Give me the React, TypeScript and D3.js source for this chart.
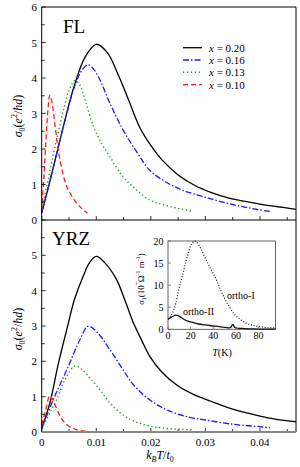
import React from "react";
import * as d3 from "d3";

// k_B T / t_0 vs sigma_0 — FL panel
const flX020 = [[0,0.2],[0.002,1.4],[0.004,2.65],[0.006,3.8],[0.008,4.6],[0.010,4.95],[0.012,4.72],[0.014,4.1],[0.016,3.35],[0.018,2.6],[0.020,2.1],[0.022,1.7],[0.025,1.27],[0.028,0.98],[0.031,0.78],[0.034,0.63],[0.037,0.53],[0.040,0.45],[0.043,0.38],[0.0466,0.3]];
const flX016 = [[0,0.2],[0.002,1.4],[0.004,2.65],[0.006,3.75],[0.0075,4.25],[0.0085,4.37],[0.0095,4.25],[0.0107,3.94],[0.0125,3.29],[0.0149,2.54],[0.0175,1.9],[0.0198,1.4],[0.023,1.05],[0.026,0.83],[0.030,0.64],[0.034,0.47],[0.038,0.34],[0.0418,0.24]];
const flX013 = [[0,0.3],[0.001,1.0],[0.002,1.75],[0.003,2.45],[0.004,3.1],[0.005,3.65],[0.0061,3.93],[0.007,3.8],[0.008,3.35],[0.0095,2.63],[0.011,2.15],[0.0125,1.78],[0.0149,1.22],[0.017,0.9],[0.0198,0.56],[0.023,0.4],[0.0278,0.24]];
const flX010 = [[0,0.25],[0.0004,1.2],[0.0008,2.3],[0.0012,3.2],[0.0015,3.52],[0.0019,3.3],[0.0025,2.6],[0.00305,1.97],[0.0038,1.35],[0.0046,0.94],[0.0055,0.68],[0.0064,0.48],[0.0075,0.3],[0.0084,0.19]];

// YRZ panel
const yrzX020 = [[0,0.1],[0.0015,0.82],[0.003,1.9],[0.0046,2.9],[0.006,3.75],[0.0076,4.41],[0.0088,4.8],[0.010,4.97],[0.0115,4.8],[0.0137,4.32],[0.0152,3.75],[0.0168,3.09],[0.0183,2.6],[0.0198,2.14],[0.022,1.7],[0.025,1.3],[0.028,1.05],[0.031,0.87],[0.034,0.7],[0.037,0.56],[0.040,0.45],[0.043,0.36],[0.0466,0.29]];
const yrzX016 = [[0,0.1],[0.0021,0.91],[0.0046,1.76],[0.007,2.61],[0.0085,2.99],[0.010,2.85],[0.0125,2.33],[0.0149,1.76],[0.017,1.3],[0.0198,0.91],[0.023,0.62],[0.027,0.42],[0.030,0.34],[0.035,0.22],[0.040,0.15],[0.0418,0.12]];
const yrzX013 = [[0,0.1],[0.0027,0.91],[0.0045,1.55],[0.0061,1.87],[0.0075,1.75],[0.009,1.5],[0.0107,1.19],[0.0125,0.82],[0.0149,0.48],[0.017,0.3],[0.0198,0.17],[0.023,0.1],[0.0278,0.06]];
const yrzX010 = [[0,0.2],[0.0007,0.6],[0.0015,1.03],[0.0022,0.85],[0.0034,0.44],[0.0045,0.22],[0.0058,0.1],[0.007,0.04],[0.0084,0.01]];

// inset: sigma_1 vs T(K)
const orthoI = [[0,2.3],[2,2.8],[4.5,4],[7,6],[9,8.5],[11.5,11],[13.6,13],[16,15.5],[18,17.3],[20.5,19.2],[23.5,20],[26,19.6],[29,18.3],[33,16.1],[37.5,13.8],[42,11.6],[46,9.2],[50,7],[54.5,5],[59,3.3],[64,2.2],[69,1.4],[75,0.9],[81,0.6],[88,0.4],[95,0.3]];
const orthoII = [[0,2.3],[2,2.6],[4,2.9],[7,3.2],[9,3.1],[12,2.6],[16,2],[21,1.6],[27,1.2],[33,1],[40,0.75],[48,0.5],[55,0.4],[57.5,1.1],[59,0.4],[65,0.2],[75,0.1],[85,0.05],[95,0.05]];

const legendLabels = ["0.20", "0.16", "0.13", "0.10"];
const xTickLabels = [0, 0.01, 0.02, 0.03, 0.04];
const insetXTicks = [0, 20, 40, 60, 80];
const insetYTicks = [0, 5, 10, 15, 20];

const styles = [
  { color: "#000", dash: null, w: 1.3 },
  { color: "#1a1aff", dash: "6,2,1.5,2", w: 1.3 },
  { color: "#1a9e1a", dash: "1.3,2.6", w: 1.4 },
  { color: "#ff1a1a", dash: "5,3", w: 1.3 },
];

const FONT = "'Liberation Serif', 'Times New Roman', serif";

export default function App() {
  const x = d3.scaleLinear().domain([0, 0.0466]).range([41.7, 296]);
  const yTop = d3.scaleLinear().domain([0, 6]).range([220, 7]);
  const yBot = d3.scaleLinear().domain([0, 6]).range([432, 220]);
  const ix = d3.scaleLinear().domain([0, 95]).range([168, 275.5]);
  const iy = d3.scaleLinear().domain([0, 20]).range([329.3, 241]);

  const mk = (ys: any) =>
    d3.line<number[]>().x((d) => x(d[0])).y((d) => ys(d[1])).curve(d3.curveCatmullRom.alpha(0.5));
  const lineTop = mk(yTop);
  const lineBot = mk(yBot);
  const lineIn = d3.line<number[]>().x((d) => ix(d[0])).y((d) => iy(d[1])).curve(d3.curveCatmullRom.alpha(0.5));

  const topSeries = [flX020, flX016, flX013, flX010];
  const botSeries = [yrzX020, yrzX016, yrzX013, yrzX010];

  const xMinor = d3.range(0, 0.0466, 0.005);
  const yMinor = d3.range(0, 6.01, 0.5);

  const axisLabelY = (cx: number, cy: number) => (
    <text
      transform={`translate(${cx},${cy}) rotate(-90)`}
      textAnchor="middle"
      fontFamily={FONT}
      fontSize={12}
    >
      <tspan fontStyle="italic">σ</tspan>
      <tspan fontSize={8} dy={3}>0</tspan>
      <tspan dy={-3}>(</tspan>
      <tspan fontStyle="italic">e</tspan>
      <tspan fontSize={8} dy={-5}>2</tspan>
      <tspan dy={5}>/</tspan>
      <tspan fontStyle="italic">ħd</tspan>
      <tspan>)</tspan>
    </text>
  );

  const panel = (ys: any, top: number, bottom: number, series: number[][][], line: any, showTop: boolean, grayBottom: boolean) => (
    <g>
      {series.map((s, i) => (
        <path
          key={i}
          d={line(s) as string}
          fill="none"
          stroke={styles[i].color}
          strokeWidth={styles[i].w}
          strokeDasharray={styles[i].dash || undefined}
        />
      ))}
      {xMinor.map((t, i) => (
        <line key={"xt" + i} x1={x(t)} x2={x(t)} y1={bottom} y2={bottom - (i % 2 === 0 ? 4 : 3)} stroke="#000" strokeWidth={0.8} />
      ))}
      {yMinor.map((t, i) =>
        !showTop && t > 5.9 ? null : (
          <line key={"yt" + i} x1={x(0)} x2={x(0) + (i % 2 === 0 ? 4 : 3)} y1={ys(t)} y2={ys(t)} stroke="#000" strokeWidth={0.8} />
        )
      )}
      {d3.range(0, showTop ? 7 : 6).map((v) => (
        <text key={"yl" + v} x={37} y={ys(v) + 4} textAnchor="end" fontFamily={FONT} fontSize={11}>
          {v}
        </text>
      ))}
      <line x1={x(0)} x2={x(0)} y1={top} y2={bottom} stroke="#000" strokeWidth={1} />
      <line x1={296} x2={296} y1={top} y2={bottom} stroke="#000" strokeWidth={1} />
      {showTop && <line x1={x(0)} x2={296} y1={top} y2={top} stroke="#000" strokeWidth={1} />}
      <line x1={x(0)} x2={296} y1={bottom} y2={bottom} stroke={grayBottom ? "#888" : "#000"} strokeWidth={grayBottom ? 1.8 : 1} />
    </g>
  );

  return (
    <svg width={300} height={467} style={{ position: "absolute", left: 0, top: 0, background: "#fff" }}>
      {panel(yTop, 7, 220, topSeries, lineTop, true, false)}
      {panel(yBot, 220, 432, botSeries, lineBot, false, true)}

      <text x={63} y={33} fontFamily={FONT} fontSize={19}>FL</text>
      <text x={52} y={245} fontFamily={FONT} fontSize={19}>YRZ</text>

      {axisLabelY(22, 116)}
      {axisLabelY(22, 329)}

      {/* legend */}
      {legendLabels.map((lab, i) => {
        const ly = 47.7 + i * 12.3;
        return (
          <g key={lab}>
            <line x1={183} x2={202} y1={ly} y2={ly} stroke={styles[i].color} strokeWidth={styles[i].w} strokeDasharray={styles[i].dash || undefined} />
            <text x={209} y={ly + 4} fontFamily={FONT} fontSize={11}>
              <tspan fontStyle="italic">x</tspan> = {lab}
            </text>
          </g>
        );
      })}

      {/* x tick labels */}
      {xTickLabels.map((t) => (
        <text key={t} x={x(t)} y={446} textAnchor="middle" fontFamily={FONT} fontSize={11}>
          {t === 0 ? "0" : t.toFixed(2)}
        </text>
      ))}
      <text x={160} y={459} textAnchor="middle" fontFamily={FONT} fontSize={12}>
        <tspan fontStyle="italic">k</tspan>
        <tspan fontStyle="italic" fontSize={8} dy={3}>B</tspan>
        <tspan fontStyle="italic" dy={-3}>T</tspan>
        <tspan>/</tspan>
        <tspan fontStyle="italic">t</tspan>
        <tspan fontSize={8} dy={3}>0</tspan>
      </text>

      {/* inset */}
      <g>
        <rect x={168} y={241} width={275.5 - 168} height={329.3 - 241} fill="#fff" stroke="#555" strokeWidth={0.9} />
        <path d={lineIn(orthoI) as string} fill="none" stroke="#111" strokeWidth={1.2} strokeDasharray="1,1.8" />
        <path d={lineIn(orthoII) as string} fill="none" stroke="#111" strokeWidth={1.3} />
        {insetXTicks.map((t) => (
          <g key={"ix" + t}>
            <line x1={ix(t)} x2={ix(t)} y1={329.3} y2={326.5} stroke="#555" strokeWidth={0.7} />
            <text x={ix(t)} y={339} textAnchor="middle" fontFamily={FONT} fontSize={10}>{t}</text>
          </g>
        ))}
        {insetYTicks.map((t) => (
          <g key={"iy" + t}>
            <line x1={168} x2={170.8} y1={iy(t)} y2={iy(t)} stroke="#555" strokeWidth={0.7} />
            <text x={163.5} y={iy(t) + 3.5} textAnchor="end" fontFamily={FONT} fontSize={10}>{t}</text>
          </g>
        ))}
        <text x={227} y={299} fontFamily={FONT} fontSize={10}>ortho-I</text>
        <text x={183} y={315} fontFamily={FONT} fontSize={10}>ortho-II</text>
        <text x={222} y={356} textAnchor="middle" fontFamily={FONT} fontSize={10}>
          <tspan fontStyle="italic">T</tspan>(K)
        </text>
        <text transform="translate(144,279) rotate(-90)" textAnchor="middle" fontFamily={FONT} fontSize={9}>
          <tspan fontStyle="italic">σ</tspan>
          <tspan fontSize={6} dy={2}>1</tspan>
          <tspan dy={-2}>(10</tspan>
          <tspan fontSize={6} dy={-4}>7</tspan>
          <tspan dy={4}>Ω</tspan>
          <tspan fontSize={6} dy={-4}>-1</tspan>
          <tspan dy={4}> m</tspan>
          <tspan fontSize={6} dy={-4}>-1</tspan>
          <tspan dy={4}>)</tspan>
        </text>
      </g>
    </svg>
  );
}
